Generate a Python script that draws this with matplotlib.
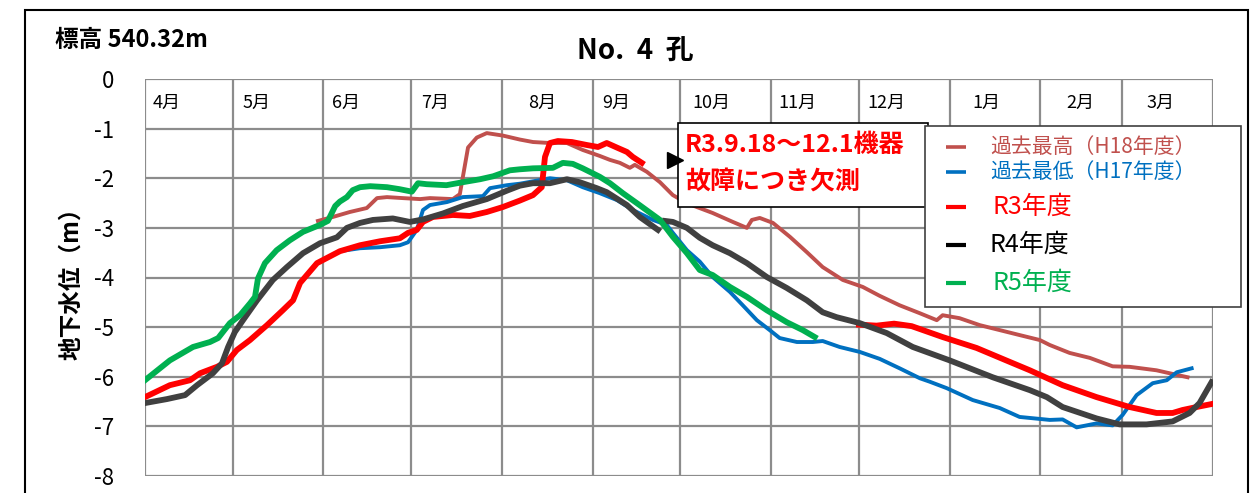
import matplotlib
matplotlib.use("Agg")
import matplotlib.pyplot as plt
import numpy as np
from matplotlib.patches import Rectangle
from matplotlib.lines import Line2D

plt.rcParams['font.family'] = ['Noto Sans CJK JP', 'DejaVu Sans']
plt.rcParams['axes.unicode_minus'] = False

nan = np.nan

# 月 (4月始まりの年度)
months = ['4月', '5月', '6月', '7月', '8月', '9月', '10月', '11月', '12月', '1月', '2月', '3月']
month_days = [30, 31, 30, 31, 31, 30, 31, 30, 31, 31, 28, 31]

# 過去最高 (H18年度)  x: 4/1からの日数, y: 地下水位(m)
h18_day = [59.1, 64.2, 70, 75.8, 79.3, 82.7, 88.1, 94, 97.4, 105.2, 107.6, 110.4, 113.4, 116.8,
           122.3, 128.1, 132.6, 138.4, 144.2, 149.6, 155.4, 158.9, 162.3, 165.7, 167.4, 171.5,
           176, 180.4, 185.2, 188.6, 194, 200.9, 205.7, 207.4, 210.1, 214.6, 220.4, 226.2,
           231.6, 238.5, 245.3, 251.1, 257.9, 264.8, 270.6, 272.6, 278.4, 285.3, 292.1, 298.9,
           305.8, 309.2, 316, 322.9, 330.7, 336.5, 345.7, 350.2, 356.3]
h18_level = [-2.86, -2.78, -2.68, -2.6, -2.4, -2.38, -2.4, -2.42, -2.4, -2.42, -2.32, -1.38, -1.18, -1.09,
             -1.14, -1.22, -1.27, -1.29, -1.29, -1.43, -1.55, -1.63, -1.69, -1.79, -1.73, -1.87,
             -2.08, -2.34, -2.5, -2.58, -2.7, -2.88, -3.0, -2.84, -2.8, -2.9, -3.18, -3.49,
             -3.79, -4.05, -4.19, -4.37, -4.56, -4.72, -4.86, -4.76, -4.82, -4.96, -5.06, -5.16,
             -5.26, -5.36, -5.52, -5.62, -5.79, -5.8, -5.87, -5.93, -6.01]

# 過去最低 (H17年度)
h17_day = [66.6, 73.5, 80.3, 87.1, 89.9, 92.9, 95, 97.4, 103.2, 108.6, 115.5, 117.9, 123.7, 128.1,
           138.4, 144.2, 149.6, 155.4, 161.3, 166.7, 173.6, 178.3, 180.4, 185.2, 189.6, 194,
           199.9, 204.3, 209.1, 213.5, 216.9, 222.8, 228.2, 231.6, 237.4, 244.3, 251.1, 257.9,
           264.8, 268.2, 274, 282.9, 292.1, 298.9, 305.8, 309.2, 313.6, 318.4, 325.2, 330.7,
           334.1, 338.9, 344.4, 349.2, 352.6, 357.7]
h17_level = [-3.47, -3.41, -3.39, -3.35, -3.29, -3.04, -2.64, -2.54, -2.48, -2.38, -2.36, -2.2, -2.14, -2.11,
             -2.0, -2.04, -2.18, -2.3, -2.44, -2.64, -2.84, -2.94, -3.1, -3.45, -3.68, -3.99,
             -4.29, -4.56, -4.86, -5.06, -5.22, -5.3, -5.3, -5.28, -5.4, -5.5, -5.64, -5.83,
             -6.03, -6.1, -6.23, -6.47, -6.63, -6.81, -6.85, -6.87, -6.86, -7.02, -6.94, -6.98,
             -6.77, -6.37, -6.13, -6.07, -5.91, -5.83]

# R3年度 (9/18～12/1 欠測)
r3_day = [0, 8.5, 15.4, 18.8, 24.6, 28, 31.4, 35.9, 41.7, 47.1, 50.6, 53, 58.8, 66.6, 73.5, 80.3,
          87.1, 89.9, 92.9, 95, 98.4, 105.2, 111, 116.8, 122.3, 128.1, 132.6, 135.6, 136.7, 138.4,
          141.1, 145.9, 151, 154.8, 157.8, 161.6, 164.7, 166.7, 169.8, nan,
          244, 250, 256, 262, 272.6, 284.2, 295.5, 302.4, 313.6, 325.2, 336.5, 345.7, 351.2,
          354.6, 359.4, 364.5]
r3_level = [-6.41, -6.17, -6.07, -5.93, -5.8, -5.7, -5.46, -5.26, -4.96, -4.66, -4.46, -4.11, -3.71, -3.47, -3.35, -3.27,
            -3.21, -3.1, -3.04, -2.88, -2.78, -2.74, -2.76, -2.68, -2.58, -2.45, -2.34, -2.18, -1.57, -1.29,
            -1.25, -1.27, -1.33, -1.37, -1.29, -1.39, -1.47, -1.57, -1.69, nan,
            -4.95, -4.97, -4.93, -4.98, -5.2, -5.42, -5.7, -5.87, -6.17, -6.41, -6.61, -6.73, -6.73,
            -6.67, -6.61, -6.55]

# R4年度
r4_day = [0, 7.5, 13.7, 17.8, 23.2, 26.3, 28.4, 30.7, 33.5, 38.3, 43.7, 48.5, 54, 59.8, 65.6, 69,
          73.5, 77.9, 84.7, 90.5, 95, 101.8, 108.6, 116.8, 123.7, 128.1, 132.6, 138.4, 144.2, 148.6,
          154.4, 157.8, 164.7, 169.1, 175.3, nan, 177.7, 180.4, 185.2, 189.6, 194, 199.9, 205.7,
          212.5, 219.3, 226.2, 231.6, 236.4, 244.3, 253.5, 262.4, 275, 289.7, 302.4, 308.2, 313.6,
          325.2, 333.1, 342.3, 351.2, 357, 360.4, 364.5]
r4_level = [-6.53, -6.45, -6.37, -6.17, -5.93, -5.73, -5.4, -5.1, -4.86, -4.46, -4.05, -3.79, -3.51, -3.31, -3.19, -3.0,
            -2.9, -2.84, -2.81, -2.88, -2.83, -2.71, -2.56, -2.42, -2.25, -2.15, -2.1, -2.1, -2.02, -2.08,
            -2.2, -2.28, -2.54, -2.78, -3.04, nan, -2.86, -2.88, -3.0, -3.2, -3.35, -3.51, -3.71,
            -3.99, -4.21, -4.46, -4.7, -4.8, -4.92, -5.12, -5.4, -5.67, -6.01, -6.27, -6.41, -6.61,
            -6.84, -6.96, -6.96, -6.9, -6.73, -6.53, -6.11]

# R5年度
r5_day = [0, 8.5, 16.4, 22.2, 25, 29, 32.5, 35.9, 37.6, 38.6, 41, 45, 49.5, 54, 59.8, 62.5, 65,
          66.6, 69, 71, 73.5, 77, 82.7, 87, 91.2, 93.3, 96.3, 103, 108.6, 114.5, 119, 124.7, 128,
          132.6, 139.4, 142.8, 146.2, 149.6, 155.4, 158.9, 163.3, 169, 176, 180.4, 185.2, 189.6,
          194, 199.9, 205.7, 212.5, 219.3, 224.8, 228.9]
r5_level = [-6.07, -5.67, -5.4, -5.3, -5.22, -4.92, -4.76, -4.52, -4.39, -4.02, -3.71, -3.45, -3.25, -3.08, -2.94, -2.86, -2.56,
            -2.47, -2.38, -2.24, -2.18, -2.16, -2.18, -2.22, -2.27, -2.1, -2.12, -2.14, -2.08, -2.02, -1.96, -1.84, -1.82,
            -1.8, -1.79, -1.69, -1.71, -1.8, -1.97, -2.1, -2.3, -2.54, -2.84, -3.18, -3.51, -3.85,
            -3.95, -4.19, -4.39, -4.66, -4.9, -5.06, -5.2]

legend_labels = ['過去最高（H18年度）', '過去最低（H17年度）', 'R3年度', 'R4年度', 'R5年度']
legend_colors = ['#C0504D', '#0070C0', '#FF0000', '#000000', '#00B050']

note_lines = ['R3.9.18～12.1機器', '故障につき欠測']

W, H = 1252, 493


def fx(px):
    return px / W


def fy(py):
    return 1 - py / H


fig = plt.figure(figsize=(W / 100, H / 100), dpi=100)
ax = fig.add_axes([fx(145), fy(476), fx(1213) - fx(145), fy(79) - fy(476)])

month_start = np.concatenate([[0], np.cumsum(month_days)])
ax.set_xlim(0, month_start[-1])
ax.set_ylim(-8, 0)

grid_c = '#8C8C8C'
for d in month_start:
    ax.axvline(d, color=grid_c, lw=1.6, zorder=1)
for v in range(-8, 1):
    ax.axhline(v, color=grid_c, lw=1.6, zorder=1)
for s in ax.spines.values():
    s.set_visible(False)

ax.set_xticks([])
ax.set_yticks(range(-8, 1))
ax.set_yticklabels([str(v) for v in range(-8, 1)], fontsize=16)
ax.tick_params(axis='y', length=0, pad=22)
ax.set_ylabel('地下水位（m）', fontsize=17, fontweight='bold')
ax.yaxis.set_label_coords(-0.058, 0.5)

# 月ラベル (セル内の位置は元図に合わせる)
label_offset = [2.7, 3.3, 3.0, 3.2, 9.1, 3.4, 4.1, 2.3, 3.0, 7.9, 9.0, 8.3]
for m, d0, off in zip(months, month_start[:-1], label_offset):
    ax.text(d0 + off, -0.49, m, fontsize=13, ha='left', va='center', zorder=3)

ax.plot(h18_day, h18_level, color='#C0504D', lw=2.8, zorder=2)
ax.plot(h17_day, h17_level, color='#0070C0', lw=2.8, zorder=2)
ax.plot(r3_day, r3_level, color='#FF0000', lw=4.2, zorder=2)
ax.plot(r4_day, r4_level, color='#404040', lw=4.2, zorder=2)
ax.plot(r5_day, r5_level, color='#00B050', lw=4.2, zorder=2)

# 欠測の注記
ax.add_patch(Rectangle((182.0, -2.575), 85.6, 1.682, facecolor='white',
                       edgecolor='black', lw=1.2, zorder=4))
ax.text(184.5, -1.33, note_lines[0], color='#FF0000', fontsize=18, fontweight='bold',
        ha='left', va='center', zorder=5)
ax.text(184.5, -2.06, note_lines[1], color='#FF0000', fontsize=18, fontweight='bold',
        ha='left', va='center', zorder=5)
ax.plot(181.1, -1.63, marker='>', color='black', ms=11, zorder=5)

# 凡例
fig.add_artist(Rectangle((fx(925), fy(307)), fx(1241) - fx(925), fy(126) - fy(307),
                         transform=fig.transFigure, facecolor='white', edgecolor='#404040',
                         lw=1.2, zorder=5))
leg_y = [147, 172, 207, 245, 283]
leg_size = [15, 15, 18, 18, 18]
leg_tx = [990, 990, 993, 990, 993]
for lab, c, py, fs, tx in zip(legend_labels, legend_colors, leg_y, leg_size, leg_tx):
    fig.add_artist(Line2D([fx(946), fx(966)], [fy(py), fy(py)], color=c,
                          lw=2.6 if fs < 16 else 3.0, solid_capstyle='butt',
                          transform=fig.transFigure, zorder=6))
    fig.text(fx(tx), fy(py), lab, color=c, fontsize=fs, ha='left', va='center', zorder=6)

# タイトル類
fig.text(fx(635), fy(52), 'No.  4  孔', fontsize=20, fontweight='bold', ha='center', va='center')
fig.text(fx(55), fy(40), '標高 540.32m', fontsize=17, fontweight='bold', ha='left', va='center')

# 外枠
fig.add_artist(Rectangle((fx(25), -0.05), fx(1248) - fx(25), fy(10) + 0.05,
                         transform=fig.transFigure, fill=False, edgecolor='black', lw=1.5))

fig.savefig('out.png', dpi=100)
